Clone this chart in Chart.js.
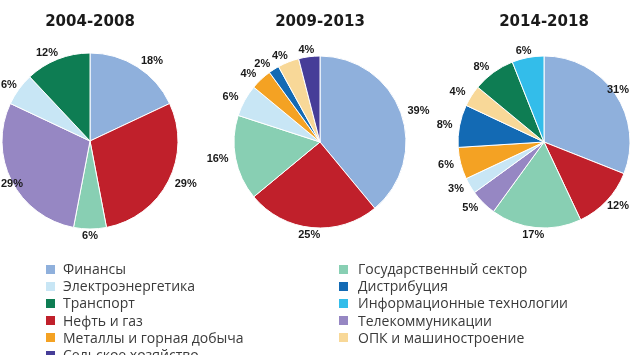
<!DOCTYPE html>
<html>
<head>
<meta charset="utf-8">
<script src="https://cdn.jsdelivr.net/npm/chart.js@4/dist/chart.umd.min.js"></script>
<style>
  html, body { margin: 0; padding: 0; background: #fff; }
  #wrap { position: relative; width: 630px; height: 355px; overflow: hidden; background: #fff; }
  canvas.pie { position: absolute; left: 0; top: 0; }
  #legend { position: absolute; left: 0; top: 0; width: 630px; height: 355px; font-family: "Open Sans", sans-serif; font-size: 14px; color: #3a3a3a; }
  .item { position: absolute; white-space: nowrap; line-height: 17px; }
  .sw { position: absolute; width: 9px; height: 9px; }
</style>
</head>
<body>
<div id="wrap">
  <canvas class="pie" id="c1" width="630" height="255"></canvas>
  <canvas class="pie" id="c2" width="630" height="255"></canvas>
  <canvas class="pie" id="c3" width="630" height="255"></canvas>
  <div id="legend"></div>
</div>
<script>
// ---- Data ----
const periods = ["2004-2008", "2009-2013", "2014-2018"];

const categories = [
  "Финансы", "Электроэнергетика", "Транспорт", "Нефть и газ",
  "Металлы и горная добыча", "Сельское хозяйство",
  "Государственный сектор", "Дистрибуция", "Информационные технологии",
  "Телекоммуникации", "ОПК и машиностроение"
];
const categoryColors = {
  "Финансы": "#8fb0dc",
  "Электроэнергетика": "#c8e6f5",
  "Транспорт": "#0e7d53",
  "Нефть и газ": "#c0202b",
  "Металлы и горная добыча": "#f4a223",
  "Сельское хозяйство": "#463d98",
  "Государственный сектор": "#88cfb3",
  "Дистрибуция": "#136ab4",
  "Информационные технологии": "#33bdea",
  "Телекоммуникации": "#9687c3",
  "ОПК и машиностроение": "#f8d898"
};

// slices clockwise from 12 o'clock
const labels2004 = ["Финансы", "Нефть и газ", "Государственный сектор", "Телекоммуникации", "Электроэнергетика", "Транспорт"];
const values2004 = [18, 29, 6, 29, 6, 12];

const labels2009 = ["Финансы", "Нефть и газ", "Государственный сектор", "Электроэнергетика", "Металлы и горная добыча", "Дистрибуция", "ОПК и машиностроение", "Сельское хозяйство"];
const values2009 = [39, 25, 16, 6, 4, 2, 4, 4];

const labels2014 = ["Финансы", "Нефть и газ", "Государственный сектор", "Телекоммуникации", "Электроэнергетика", "Металлы и горная добыча", "Дистрибуция", "ОПК и машиностроение", "Транспорт", "Информационные технологии"];
const values2014 = [31, 12, 17, 5, 3, 6, 8, 4, 8, 6];

const legendCol1 = ["Финансы", "Электроэнергетика", "Транспорт", "Нефть и газ", "Металлы и горная добыча", "Сельское хозяйство"];
const legendCol2 = ["Государственный сектор", "Дистрибуция", "Информационные технологии", "Телекоммуникации", "ОПК и машиностроение"];

// ---- Outside percentage labels ----
const outsideLabels = {
  id: "outsideLabels",
  afterDatasetsDraw(chart) {
    const ctx = chart.ctx;
    const meta = chart.getDatasetMeta(0);
    const data = chart.data.datasets[0].data;
    ctx.save();
    ctx.font = "bold 11px 'Liberation Sans', Arial, sans-serif";
    ctx.fillStyle = "#1a1a1a";
    ctx.textAlign = "center";
    ctx.textBaseline = "middle";
    meta.data.forEach((arc, i) => {
      const p = arc.getProps(["x", "y", "startAngle", "endAngle", "outerRadius"], true);
      const mid = (p.startAngle + p.endAngle) / 2;
      const d = p.outerRadius + 7;
      const ax = p.x + Math.cos(mid) * d;
      const ay = p.y + Math.sin(mid) * d;
      const txt = data[i] + "%";
      const w = ctx.measureText(txt).width;
      const s = Math.max(-1, Math.min(1, 2 * Math.cos(mid)));
      let cx = ax + s * w / 2;
      cx = Math.max(w / 2 + 1, Math.min(chart.width - w / 2 - 1, cx));
      ctx.fillText(txt, cx, ay);
    });
    ctx.restore();
  }
};

function makePie(id, title, labels, values, cx, cy, r) {
  const H = 255, W = 630;
  const titleTop = 13, titleLine = 18, titleBottom = 10;
  const areaTop = titleTop + titleLine + titleBottom;
  const areaBottom = 2 * cy - areaTop;
  return new Chart(document.getElementById(id), {
    type: "pie",
    data: {
      labels: labels,
      datasets: [{
        data: values,
        backgroundColor: labels.map(l => categoryColors[l]),
        borderColor: "#ffffff",
        borderWidth: 1,
        hoverOffset: 0
      }]
    },
    options: {
      responsive: false,
      animation: false,
      radius: r,
      layout: { padding: { left: cx - r, right: W - (cx + r), top: 0, bottom: H - areaBottom } },
      plugins: {
        legend: { display: false },
        tooltip: { enabled: false },
        title: {
          display: true,
          text: title,
          color: "#1a1a1a",
          font: { family: "'DejaVu Sans', sans-serif", size: 15, weight: "bold", lineHeight: 1.2 },
          padding: { top: titleTop, bottom: titleBottom }
        }
      }
    },
    plugins: [outsideLabels]
  });
}

makePie("c1", periods[0], labels2004, values2004, 90, 141, 88);
makePie("c2", periods[1], labels2009, values2009, 320, 142, 86);
makePie("c3", periods[2], labels2014, values2014, 544, 142, 86);

// ---- Legend (HTML) ----
const legend = document.getElementById("legend");
function addColumn(items, sqX, txtX) {
  items.forEach((name, i) => {
    const cy = 269 + i * 17.2;
    const sw = document.createElement("div");
    sw.className = "sw";
    sw.style.left = sqX + "px";
    sw.style.top = (cy - 4.5) + "px";
    sw.style.background = categoryColors[name];
    legend.appendChild(sw);
    const t = document.createElement("div");
    t.className = "item";
    t.style.left = txtX + "px";
    t.style.top = (cy - 9) + "px";
    t.textContent = name;
    legend.appendChild(t);
  });
}
addColumn(legendCol1, 46, 63);
addColumn(legendCol2, 339, 358);
</script>
</body>
</html>
